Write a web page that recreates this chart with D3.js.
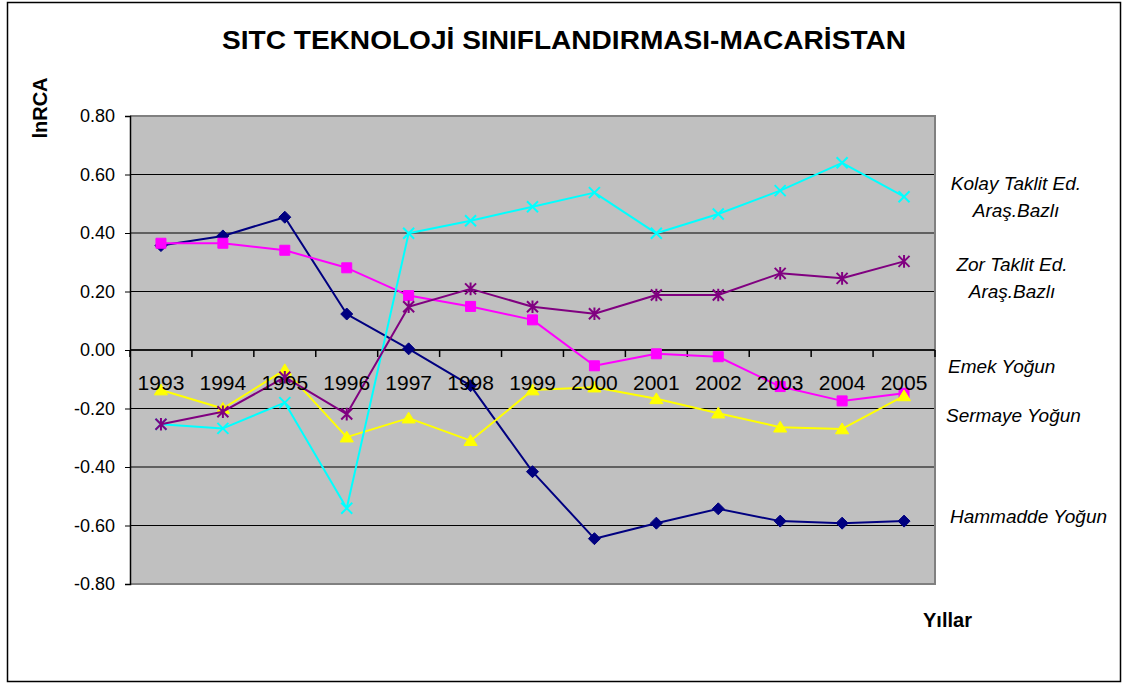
<!DOCTYPE html>
<html>
<head>
<meta charset="utf-8">
<script src="https://cdn.jsdelivr.net/npm/d3@7/dist/d3.min.js"></script>
<style>
  html, body { margin: 0; padding: 0; background: #fff; }
  svg { display: block; font-family: Arial, "Liberation Sans", sans-serif; }
</style>
</head>
<body>
<svg id="chart" width="1122" height="684"></svg>
<script>
const years = ["1993","1994","1995","1996","1997","1998","1999","2000","2001","2002","2003","2004","2005"];
const yTicks = [0.8, 0.6, 0.4, 0.2, 0.0, -0.2, -0.4, -0.6, -0.8];

const hammadde = [0.357, 0.390, 0.454, 0.123, 0.004, -0.122, -0.416, -0.645, -0.592, -0.543, -0.585, -0.592, -0.585];
const emek     = [0.365, 0.365, 0.341, 0.281, 0.186, 0.149, 0.103, -0.054, -0.013, -0.023, -0.125, -0.174, -0.148];
const sermaye  = [-0.137, -0.200, -0.068, -0.298, -0.233, -0.310, -0.137, -0.127, -0.167, -0.216, -0.264, -0.270, -0.157];
const kolay    = [-0.254, -0.268, -0.180, -0.541, 0.399, 0.442, 0.490, 0.538, 0.399, 0.465, 0.545, 0.640, 0.524];
const zor      = [-0.254, -0.211, -0.093, -0.219, 0.148, 0.209, 0.148, 0.124, 0.188, 0.188, 0.262, 0.245, 0.303];

const title = "SITC TEKNOLOJİ SINIFLANDIRMASI-MACARİSTAN";
const yTitle = "lnRCA";
const xTitle = "Yıllar";

const series = [
  { name: "Hammadde Yoğun", values: hammadde, color: "#000080", marker: "diamond", label: ["Hammadde Yoğun"], lx: 950, ly: 523, anchor: "start" },
  { name: "Emek Yoğun", values: emek, color: "#FF00FF", marker: "square", label: ["Emek Yoğun"], lx: 948, ly: 373, anchor: "start" },
  { name: "Sermaye Yoğun", values: sermaye, color: "#FFFF00", marker: "triangle", label: ["Sermaye Yoğun"], lx: 946, ly: 422, anchor: "start" },
  { name: "Kolay Taklit Ed. Araş.Bazlı", values: kolay, color: "#00FFFF", marker: "x", label: ["Kolay Taklit Ed.", "Araş.Bazlı"], lx: 1016, ly: 190, anchor: "middle" },
  { name: "Zor Taklit Ed. Araş.Bazlı", values: zor, color: "#800080", marker: "star", label: ["Zor Taklit Ed.", "Araş.Bazlı"], lx: 1012, ly: 271, anchor: "middle" }
];

const svg = d3.select("#chart");
const plot = { left: 130, right: 935, top: 116, bottom: 584 };

// outer border
svg.append("rect").attr("x", 7.5).attr("y", 2.5).attr("width", 1113).attr("height", 679)
  .attr("fill", "#fff").attr("stroke", "#000").attr("stroke-width", 1.5);

const x = d3.scaleBand().domain(years).range([plot.left, plot.right]).paddingInner(0).paddingOuter(0);
const y = d3.scaleLinear().domain([-0.8, 0.8]).range([plot.bottom, plot.top]);
const cx = d => x(d) + x.bandwidth() / 2;

// plot background
svg.append("rect").attr("x", plot.left).attr("y", plot.top)
  .attr("width", plot.right - plot.left).attr("height", plot.bottom - plot.top)
  .attr("fill", "#C0C0C0");

// gridlines
svg.append("g").selectAll("line").data(yTicks.filter(v => v > -0.8 && v < 0.8)).join("line")
  .attr("x1", plot.left).attr("x2", plot.right)
  .attr("y1", d => y(d)).attr("y2", d => y(d))
  .attr("stroke", "#000").attr("stroke-width", 1);

// plot border (top, right, bottom gray)
svg.append("path")
  .attr("d", `M${plot.left},${plot.top}H${plot.right}V${plot.bottom}H${plot.left}`)
  .attr("fill", "none").attr("stroke", "#808080").attr("stroke-width", 2);

// y axis
const yAxis = d3.axisLeft(y).tickValues(yTicks).tickSize(5).tickPadding(10)
  .tickFormat(d => d.toFixed(2));
const gy = svg.append("g").attr("transform", `translate(${plot.left},0)`).call(yAxis);
gy.select(".domain").attr("stroke", "#000").attr("stroke-width", 1.5);
gy.selectAll(".tick line").attr("stroke", "#000");
gy.selectAll(".tick text").attr("font-size", 18).attr("fill", "#000")
  .attr("font-family", "Arial, 'Liberation Sans', sans-serif");

// x axis at zero
const y0 = y(0);
const bounds = years.map(d => x(d)).concat([plot.right]);
svg.append("g").selectAll("line").data(bounds).join("line")
  .attr("x1", d => d).attr("x2", d => d)
  .attr("y1", y0).attr("y2", y0 + 7)
  .attr("stroke", "#000").attr("stroke-width", 1.5);
svg.append("line").attr("x1", plot.left).attr("x2", plot.right).attr("y1", y0).attr("y2", y0)
  .attr("stroke", "#000").attr("stroke-width", 1.5);

// series lines
const line = d3.line().x((v, i) => cx(years[i])).y(v => y(v));

const markerPath = {
  diamond: r => `M0,${-r}L${r},0L0,${r}L${-r},0Z`,
  square: r => `M${-r},${-r}H${r}V${r}H${-r}Z`,
  triangle: r => `M0,${-r}L${r * 1.1},${r * 0.8}L${-r * 1.1},${r * 0.8}Z`,
  x: r => `M${-r},${-r}L${r},${r}M${-r},${r}L${r},${-r}`,
  star: r => `M${-r},${-r}L${r},${r}M${-r},${r}L${r},${-r}M0,${-r * 1.15}V${r * 1.15}`
};
const markerSize = { diamond: 6, square: 5, triangle: 6, x: 5.5, star: 5.5 };

series.forEach(s => {
  const g = svg.append("g");
  g.append("path").attr("d", line(s.values)).attr("fill", "none")
    .attr("stroke", s.color).attr("stroke-width", 2).attr("stroke-linejoin", "round");
  const filled = s.marker === "diamond" || s.marker === "square" || s.marker === "triangle";
  g.selectAll("path.m").data(s.values).join("path").attr("class", "m")
    .attr("transform", (v, i) => `translate(${cx(years[i])},${y(v)})`)
    .attr("d", markerPath[s.marker](markerSize[s.marker]))
    .attr("fill", filled ? s.color : "none")
    .attr("stroke", s.color).attr("stroke-width", filled ? 1 : 2);
});

// category labels
svg.append("g").selectAll("text").data(years).join("text")
  .attr("x", d => cx(d)).attr("y", y0 + 40)
  .attr("text-anchor", "middle").attr("font-size", 21).attr("fill", "#000")
  .text(d => d);

// series labels
series.forEach(s => {
  const t = svg.append("text").attr("font-size", 19).attr("font-style", "italic")
    .attr("fill", "#000").attr("text-anchor", s.anchor);
  s.label.forEach((ln, i) => {
    t.append("tspan").attr("x", s.lx).attr("y", s.ly + i * 27).text(ln);
  });
});

// titles
svg.append("text").attr("x", 222).attr("y", 49).attr("text-anchor", "start")
  .attr("font-size", 25).attr("font-weight", "bold")
  .attr("textLength", 684).attr("lengthAdjust", "spacingAndGlyphs").text(title);
svg.append("text").attr("transform", "translate(47,108) rotate(-90)").attr("text-anchor", "middle")
  .attr("font-size", 20).attr("font-weight", "bold").text(yTitle);
svg.append("text").attr("x", 923).attr("y", 627).attr("text-anchor", "start")
  .attr("font-size", 20).attr("font-weight", "bold").text(xTitle);
</script>
</body>
</html>
